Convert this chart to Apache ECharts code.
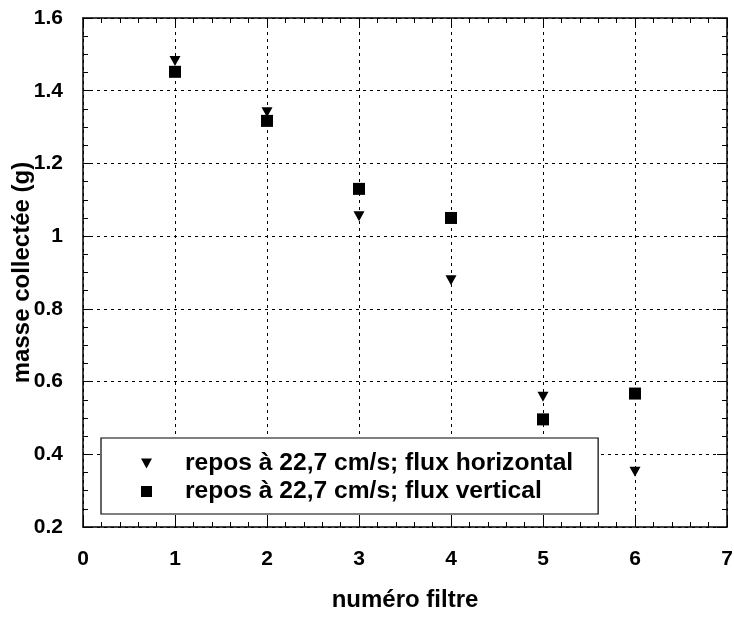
<!DOCTYPE html>
<html>
<head>
<meta charset="utf-8">
<script src="https://cdn.jsdelivr.net/npm/echarts@6/dist/echarts.min.js"></script>
<style>
  html, body { margin: 0; padding: 0; background: #fff; }
  #chart { width: 734px; height: 617px; }
</style>
</head>
<body>
<div id="chart"></div>
<script>
// filtre number and collected mass (g)
var filtres = [1, 2, 3, 4, 5, 6]
var masseHorizontal = [1.482, 1.341, 1.055, 0.879, 0.558, 0.352]
var masseVertical = [1.452, 1.317, 1.130, 1.050, 0.496, 0.567]
var nomHorizontal = 'repos à 22,7 cm/s; flux horizontal'
var nomVertical = 'repos à 22,7 cm/s; flux vertical'

var font = 'Liberation Sans, Arial, Helvetica, sans-serif'

function pairs (xs, ys) {
  return xs.map(function (x, i) { return [x, ys[i]] })
}

var chart = echarts.init(document.getElementById('chart'))

var gridLine = { show: true, lineStyle: { color: '#000', type: [3, 4], width: 1 } }
var axisLine = { show: true, onZero: false, lineStyle: { color: '#000', width: 1.5 } }
var tick = { show: true, inside: true, length: 10, lineStyle: { color: '#000', width: 1 } }
var minor = { show: true, length: 5, lineStyle: { color: '#000', width: 1 } }
var label = { color: '#000', fontFamily: font, fontWeight: 'bold', fontSize: 21 }
var title = { color: '#000', fontFamily: font, fontWeight: 'bold', fontSize: 24 }

chart.setOption({
  animation: false,
  grid: { left: 83, right: 7, top: 18, bottom: 90, containLabel: false, outerBoundsMode: 'none' },
  legend: {
    orient: 'vertical',
    left: 101,
    top: 438,
    padding: [13, 25, 10, 40],
    itemGap: 3,
    itemWidth: 11,
    itemHeight: 11,
    borderColor: '#000',
    borderWidth: 1.2,
    backgroundColor: '#fff',
    textStyle: { color: '#000', fontFamily: font, fontWeight: 'bold', fontSize: 24.6, padding: [0, 0, 0, 28] },
    data: [
      { name: nomHorizontal, icon: 'path://M0,0 L11,0 L5.5,10 Z' },
      { name: nomVertical, icon: 'rect' }
    ]
  },
  xAxis: [
    {
      type: 'value', min: 0, max: 7, interval: 1,
      name: 'numéro filtre', nameLocation: 'middle', nameGap: 61, nameMoveOverlap: false,
      nameTextStyle: title,
      axisLine: axisLine, axisTick: tick, minorTick: Object.assign({ splitNumber: 5 }, minor),
      axisLabel: Object.assign({ margin: 22 }, label),
      splitLine: gridLine
    },
    {
      type: 'value', min: 0, max: 7, interval: 1, position: 'top',
      axisLine: axisLine, axisTick: tick, minorTick: Object.assign({ splitNumber: 5 }, minor),
      axisLabel: { show: false }, splitLine: { show: false }
    }
  ],
  yAxis: [
    {
      type: 'value', min: 0.2, max: 1.6, interval: 0.2,
      name: 'masse collectée (g)', nameLocation: 'middle', nameGap: 49, nameMoveOverlap: false,
      nameTextStyle: title,
      axisLine: axisLine, axisTick: tick, minorTick: Object.assign({ splitNumber: 4 }, minor),
      axisLabel: Object.assign({ margin: 20, formatter: function (v) { return String(Math.round(v * 10) / 10) } }, label),
      splitLine: gridLine
    },
    {
      type: 'value', min: 0.2, max: 1.6, interval: 0.2, position: 'right',
      axisLine: axisLine, axisTick: tick, minorTick: Object.assign({ splitNumber: 4 }, minor),
      axisLabel: { show: false }, splitLine: { show: false }
    }
  ],
  series: [
    {
      name: nomHorizontal,
      type: 'scatter',
      symbol: 'triangle',
      symbolRotate: 180,
      symbolSize: [11, 10],
      itemStyle: { color: '#000', opacity: 1 },
      data: pairs(filtres, masseHorizontal)
    },
    {
      name: nomVertical,
      type: 'scatter',
      symbol: 'rect',
      symbolSize: 12,
      itemStyle: { color: '#000', opacity: 1 },
      data: pairs(filtres, masseVertical)
    }
  ]
})
</script>
</body>
</html>
